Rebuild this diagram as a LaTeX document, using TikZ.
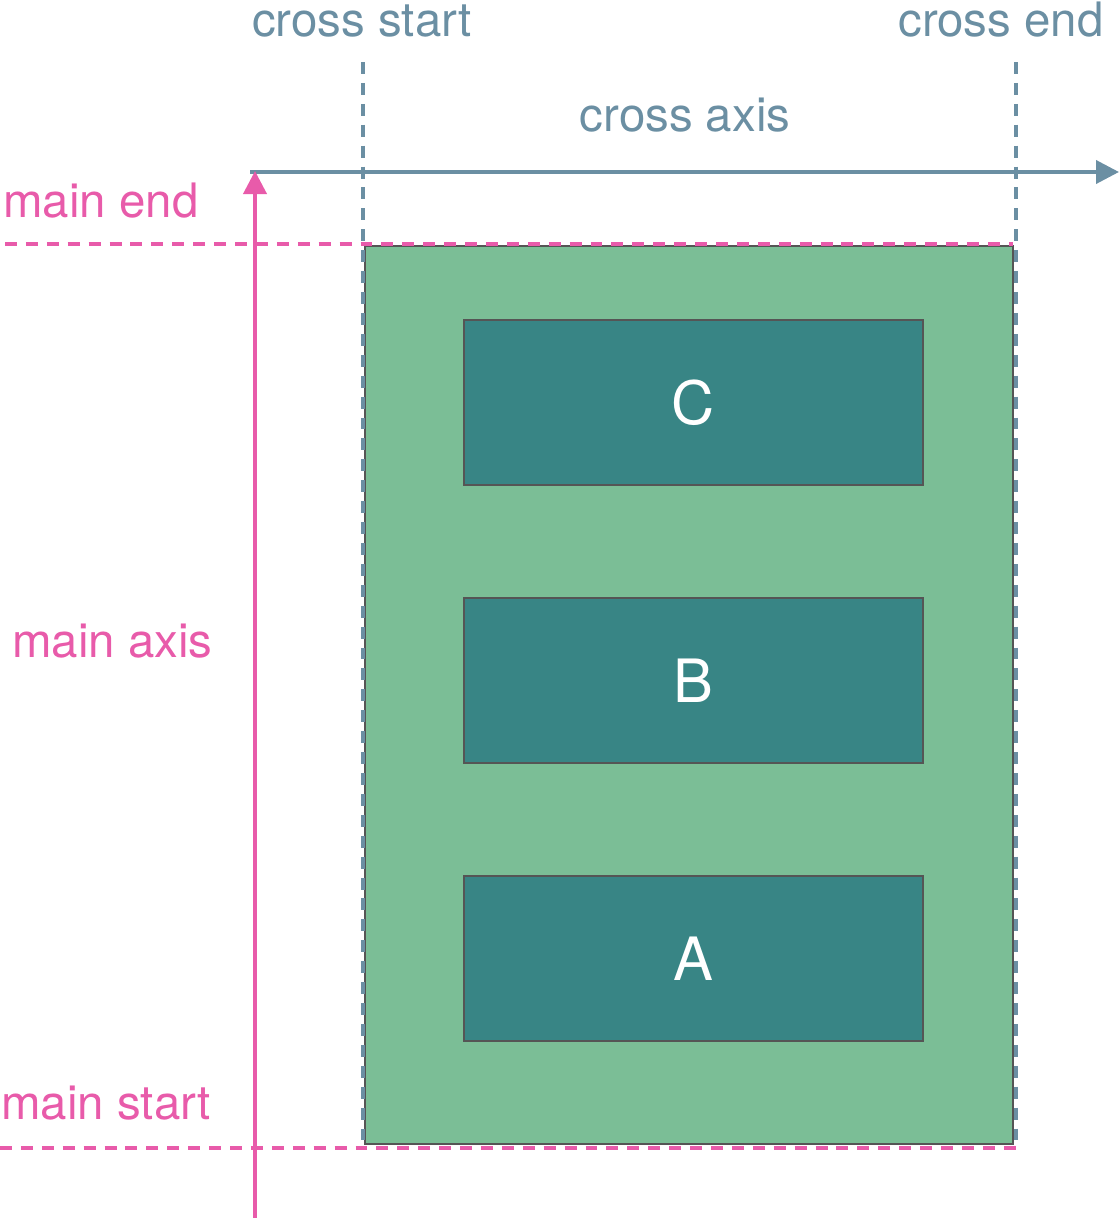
\documentclass[tikz,border=0pt]{standalone}
\usepackage{fontspec}
\setmainfont{TeX Gyre Heros}
\usetikzlibrary{arrows.meta}

\definecolor{boxgreen}{HTML}{7BBE96}
\definecolor{itemteal}{HTML}{388585}
\definecolor{mainpink}{HTML}{E85BAA}
\definecolor{crossblue}{HTML}{6B8FA3}
\definecolor{edgegray}{HTML}{555555}

\tikzset{
  container/.style={draw=edgegray, line width=0.8pt, fill=boxgreen,
    minimum width=129.6mm, minimum height=179.6mm, inner sep=0pt},
  flexitem/.style={draw=edgegray, line width=0.6pt, fill=itemteal, text=white,
    minimum width=91.8mm, minimum height=33mm, inner sep=0pt, font=\fontsize{34}{40}\selectfont},
  mainlab/.style={text=mainpink, anchor=base west, inner sep=0pt, font=\fontsize{27}{32}\selectfont},
  crosslab/.style={text=crossblue, anchor=base, inner sep=0pt, font=\fontsize{27}{32}\selectfont},
  mainline/.style={draw=mainpink, line width=2.7pt, dash pattern=on 6.8pt off 5.1pt},
  crossline/.style={draw=crossblue, line width=2.7pt, dash pattern=on 6.8pt off 5.1pt},
  axisarrow/.style={line width=2.2pt, -{Triangle[width=4.6mm,length=4.6mm]}}
}

\begin{document}
\begin{tikzpicture}[x=0.2mm, y=-0.2mm]
\useasboundingbox (0,0) rectangle (1119,1218);

% container and its items
\node[container] (box) at (689,695) {};
\node[flexitem] (itemC) at (693.5,402.5) {C};
\node[flexitem] (itemB) at (693.5,680.5) {B};
\node[flexitem] (itemA) at (693.5,958.5) {A};

% guide lines
\coordinate (csTop) at (363,62);
\coordinate (csBot) at (363,1144);
\coordinate (ceTop) at (1016,62);
\coordinate (ceBot) at (1016,1148);
\coordinate (meLeft) at (5,244);
\coordinate (meRight) at (1013,244);
\coordinate (msLeft) at (0,1148);
\coordinate (msRight) at (1016,1148);
\draw[crossline] (csTop) -- (csBot);
\draw[crossline] (ceTop) -- (ceBot);
\draw[mainline] (meLeft) -- (meRight);
\draw[mainline] (msLeft) -- (msRight);

% axes
\coordinate (crossFrom) at (250,172);
\coordinate (crossTo) at (1119,172);
\coordinate (mainFrom) at (255,1218);
\coordinate (mainTo) at (255,171);
\draw[axisarrow, crossblue] (crossFrom) -- (crossTo);
\draw[axisarrow, mainpink] (mainFrom) -- (mainTo);

% labels
\node[crosslab] (crossStart) at (362,36) {cross start};
\node[crosslab] (crossEnd) at (1001,36) {cross end};
\node[crosslab] (crossAxis) at (685,131) {cross axis};
\node[mainlab] (mainEnd) at (3,217) {main end};
\node[mainlab] (mainAxis) at (12,657) {main axis};
\node[mainlab] (mainStart) at (1,1119) {main start};
\end{tikzpicture}
\end{document}
